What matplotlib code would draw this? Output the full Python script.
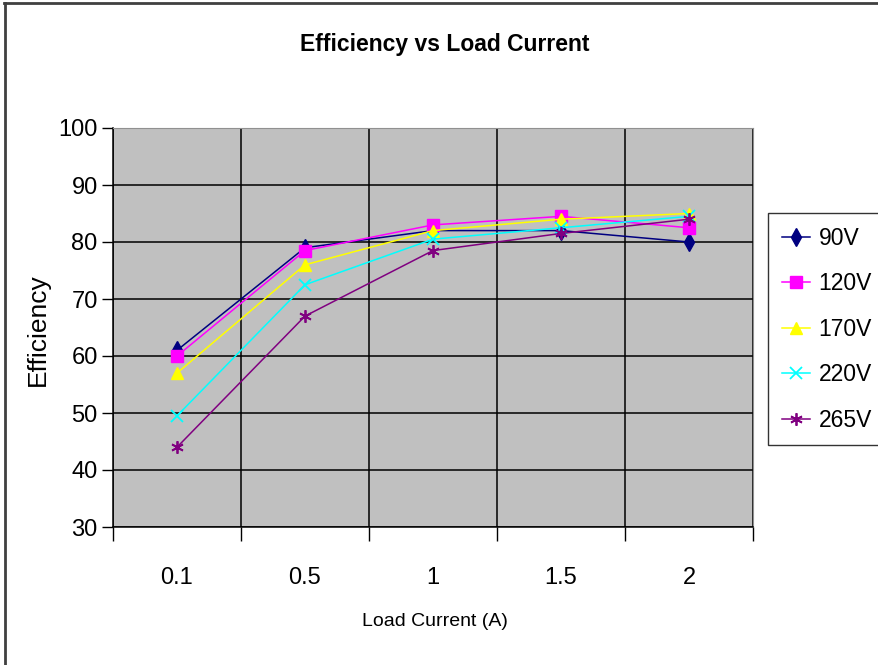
import matplotlib
matplotlib.use("Agg")
import matplotlib.pyplot as plt
from matplotlib.lines import Line2D

# Load current categories and efficiency (%) per input voltage
categories = ["0.1", "0.5", "1", "1.5", "2"]
eff_90v = [61, 79, 82, 82, 80]
eff_120v = [60, 78.5, 83, 84.5, 82.5]
eff_170v = [57, 76, 82, 84, 85]
eff_220v = [49.5, 72.5, 80.5, 82.5, 84.5]
eff_265v = [44, 67, 78.5, 81.5, 84]
series_names = ["90V", "120V", "170V", "220V", "265V"]
y_ticks = [30, 40, 50, 60, 70, 80, 90, 100]

plt.rcParams["font.family"] = ["Liberation Sans", "DejaVu Sans"]

fig = plt.figure(figsize=(8.79, 6.65), dpi=100)
fig.patch.set_facecolor("white")
ax = fig.add_axes([113 / 879, 1 - 527 / 665, 640 / 879, 399 / 665])
ax.set_facecolor("#C0C0C0")

x = list(range(len(categories)))
styles = [
    dict(color="#000080", marker="d", ms=9),
    dict(color="#FF00FF", marker="s", ms=8),
    dict(color="#FFFF00", marker="^", ms=9),
    dict(color="#00FFFF", marker="x", ms=8, mew=1.3),
    dict(color="#800080", marker=(6, 2, 0), ms=9, mew=1.3),
]
all_series = [eff_90v, eff_120v, eff_170v, eff_220v, eff_265v]
handles = []
for name, vals, st in zip(series_names, all_series, styles):
    (h,) = ax.plot(x, vals, lw=1.1, label=name, zorder=3, **st)
    handles.append(h)

ax.set_xlim(-0.5, len(categories) - 0.5)
ax.set_ylim(30, 100)
ax.set_yticks(y_ticks)
ax.set_yticklabels([str(v) for v in y_ticks], fontsize=17)

# category boundaries carry ticks and grid; labels sit at category centers
bounds = [i - 0.5 for i in range(len(categories) + 1)]
ax.set_xticks(bounds)
ax.set_xticklabels([""] * len(bounds))
ax.set_xticks(x, minor=True)
ax.set_xticklabels(categories, minor=True, fontsize=17)
ax.tick_params(axis="x", which="minor", length=0, pad=29)
ax.tick_params(axis="x", which="major", length=10, width=1, color="black")
ax.tick_params(axis="y", which="major", length=8, width=1, color="black", pad=3)

ax.grid(True, which="major", color="black", lw=1.1, zorder=1)
ax.set_axisbelow(True)
for side in ("top", "right"):
    ax.spines[side].set_color("#909090")
    ax.spines[side].set_linewidth(0.8)
for side in ("left", "bottom"):
    ax.spines[side].set_color("black")
    ax.spines[side].set_linewidth(1.1)

fig.text(445 / 879, 1 - 45 / 665, "Efficiency vs Load Current", ha="center",
         va="center", fontsize=16.5, fontweight="bold")
fig.text(435 / 879, 1 - 622 / 665, "Load Current (A)", ha="center",
         va="center", fontsize=14)
fig.text(38 / 879, 1 - 330 / 665, "Efficiency", ha="center", va="center",
         rotation=90, fontsize=19)

leg = fig.legend(handles=handles, loc="upper left",
                 bbox_to_anchor=(768 / 879, 1 - 213 / 665),
                 frameon=True, fancybox=False, fontsize=16.5,
                 handlelength=1.25, handletextpad=0.35, labelspacing=0.98,
                 borderpad=0.6, borderaxespad=0)
leg.get_frame().set_edgecolor("black")
leg.get_frame().set_linewidth(1.0)

# outer chart border (top and left edges)
fig.add_artist(Line2D([4 / 879, 1], [1 - 3 / 665, 1 - 3 / 665],
                      transform=fig.transFigure, color="#404040", lw=2))
fig.add_artist(Line2D([5 / 879, 5 / 879], [0, 1 - 3 / 665],
                      transform=fig.transFigure, color="#404040", lw=2))

fig.savefig("out.png", dpi=100)
